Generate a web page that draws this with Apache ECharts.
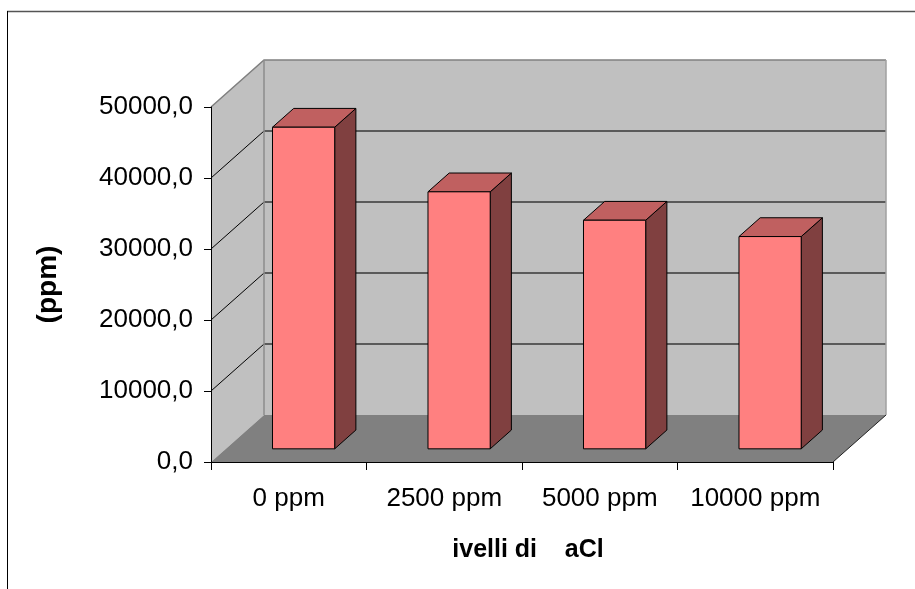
<!DOCTYPE html>
<html>
<head>
<meta charset="utf-8">
<script src="https://cdn.jsdelivr.net/npm/echarts@6/dist/echarts.min.js"></script>
<style>
  html, body { margin: 0; padding: 0; background: #fff; }
  #chart { width: 915px; height: 589px; }
</style>
</head>
<body>
<div id="chart"></div>
<script>
// Categories on the x axis
const categories = ['0 ppm', '2500 ppm', '5000 ppm', '10000 ppm'];
// Measured values (ppm) for each NaCl level
const naclValues = [45300, 36200, 32200, 29900];
// Value axis range and step
const yMin = 0;
const yMax = 50000;
const yStep = 10000;

const FONT = "'Liberation Sans', Arial, sans-serif";

// Oblique depth of the 3D box (pixels for full depth)
const DEPTH = { x: 53, y: -47 };
// Bars occupy this slice of the depth
const BAR_DEPTH = [0.28, 0.68];
const BAR_WIDTH_RATIO = 0.4;

const chart = echarts.init(document.getElementById('chart'), null, { renderer: 'canvas' });

function renderWalls(params, api) {
  const cs = params.coordSys;
  const L = cs.x, R = cs.x + cs.width, T = cs.y, B = cs.y + cs.height;
  const dx = DEPTH.x, dy = DEPTH.y;
  const children = [];
  // left side wall
  children.push({
    type: 'polygon',
    shape: { points: [[L, B], [L, T], [L + dx, T + dy], [L + dx, B + dy]] },
    style: { fill: '#c0c0c0', stroke: null }
  });
  // back wall
  children.push({
    type: 'rect',
    shape: { x: L + dx, y: T + dy, width: R - L, height: B - T },
    style: { fill: '#c0c0c0', stroke: null }
  });
  // floor
  children.push({
    type: 'polygon',
    shape: { points: [[L, B], [R, B], [R + dx, B + dy], [L + dx, B + dy]] },
    style: { fill: '#808080', stroke: null }
  });
  // gridlines on side and back walls
  for (let v = yMin + yStep; v < yMax; v += yStep) {
    const y = api.coord([0, v])[1];
    children.push({
      type: 'line',
      shape: { x1: L, y1: y, x2: L + dx, y2: y + dy },
      style: { stroke: '#000', lineWidth: 1 }
    });
    children.push({
      type: 'line',
      shape: { x1: L + dx, y1: y + dy, x2: R + dx, y2: y + dy },
      style: { stroke: '#5a5a5a', lineWidth: 2 }
    });
  }
  // wall edges
  const yTop = api.coord([0, yMax])[1];
  children.push({
    type: 'polyline',
    shape: { points: [[L, yTop], [L + dx, yTop + dy], [R + dx, yTop + dy]] },
    style: { stroke: '#808080', lineWidth: 1.5, fill: null }
  });
  children.push({
    type: 'line',
    shape: { x1: L + dx, y1: T + dy, x2: L + dx, y2: B + dy },
    style: { stroke: '#8c8c8c', lineWidth: 1.5 }
  });
  children.push({
    type: 'line',
    shape: { x1: R + dx, y1: T + dy, x2: R + dx, y2: B + dy },
    style: { stroke: '#a0a0a0', lineWidth: 1.5 }
  });
  children.push({
    type: 'line',
    shape: { x1: R, y1: B, x2: R + dx, y2: B + dy },
    style: { stroke: '#222', lineWidth: 1 }
  });
  return { type: 'group', children: children };
}

function renderBar(params, api) {
  const i = api.value(0);
  const v = api.value(1);
  const top = api.coord([i, v]);
  const base = api.coord([i, 0]);
  const band = api.size([1, 0])[0];
  const w = band * BAR_WIDTH_RATIO;
  const f0 = BAR_DEPTH[0], f1 = BAR_DEPTH[1];
  const x0 = top[0] - w / 2 + DEPTH.x * f0;
  const x1 = x0 + w;
  const yT = top[1] + DEPTH.y * f0;
  const yB = base[1] + DEPTH.y * f0;
  const ddx = DEPTH.x * (f1 - f0);
  const ddy = DEPTH.y * (f1 - f0);
  const edge = { stroke: '#000', lineWidth: 1, lineJoin: 'round' };
  return {
    type: 'group',
    children: [
      {
        type: 'polygon',
        shape: { points: [[x1, yT], [x1 + ddx, yT + ddy], [x1 + ddx, yB + ddy], [x1, yB]] },
        style: Object.assign({ fill: '#804040' }, edge)
      },
      {
        type: 'polygon',
        shape: { points: [[x0, yT], [x1, yT], [x1 + ddx, yT + ddy], [x0 + ddx, yT + ddy]] },
        style: Object.assign({ fill: '#c06060' }, edge)
      },
      {
        type: 'rect',
        shape: { x: x0, y: yT, width: w, height: yB - yT },
        style: Object.assign({ fill: '#ff8080' }, edge)
      }
    ]
  };
}

const option = {
  animation: false,
  backgroundColor: '#ffffff',
  grid: { left: 211, right: 82, top: 107, bottom: 127 },
  xAxis: {
    type: 'category',
    data: categories,
    z: 10,
    axisLine: { show: true, lineStyle: { color: '#000', width: 1 } },
    axisTick: { show: true, interval: 0, length: 8, lineStyle: { color: '#000' } },
    axisLabel: { interval: 0, hideOverlap: false, color: '#000', fontSize: 26, fontFamily: FONT, margin: 24 },
    splitLine: { show: false },
    name: 'ivelli di    aCl',
    nameLocation: 'middle',
    nameGap: 76,
    nameTextStyle: { color: '#000', fontSize: 25, fontWeight: 'bold', fontFamily: FONT, padding: [0, 0, 0, 12] }
  },
  yAxis: {
    type: 'value',
    min: yMin,
    max: yMax,
    interval: yStep,
    z: 10,
    axisLine: { show: true, lineStyle: { color: '#000', width: 1 } },
    axisTick: { show: true, length: 7, lineStyle: { color: '#000' } },
    axisLabel: {
      color: '#000', fontSize: 26, fontFamily: FONT, margin: 18,
      formatter: function (v) { return v.toFixed(1).replace('.', ','); }
    },
    splitLine: { show: false },
    name: '(ppm)',
    nameLocation: 'middle',
    nameGap: 149,
    nameRotate: 90,
    nameTextStyle: { color: '#000', fontSize: 28, fontWeight: 'bold', fontFamily: FONT }
  },
  graphic: [
    { type: 'line', shape: { x1: 7, y1: 11.5, x2: 915, y2: 11.5 }, style: { stroke: '#555', lineWidth: 1.5 }, z: 100 },
    { type: 'line', shape: { x1: 7.5, y1: 11, x2: 7.5, y2: 589 }, style: { stroke: '#000', lineWidth: 1 }, z: 100 }
  ],
  series: [
    {
      type: 'custom',
      name: 'walls',
      coordinateSystem: 'cartesian2d',
      data: [[0, 0]],
      renderItem: renderWalls,
      silent: true,
      z: 1,
      clip: false
    },
    {
      type: 'custom',
      name: 'NaCl',
      coordinateSystem: 'cartesian2d',
      data: naclValues.map(function (v, i) { return [i, v]; }),
      renderItem: renderBar,
      z: 2,
      clip: false
    }
  ]
};

chart.setOption(option);
</script>
</body>
</html>
